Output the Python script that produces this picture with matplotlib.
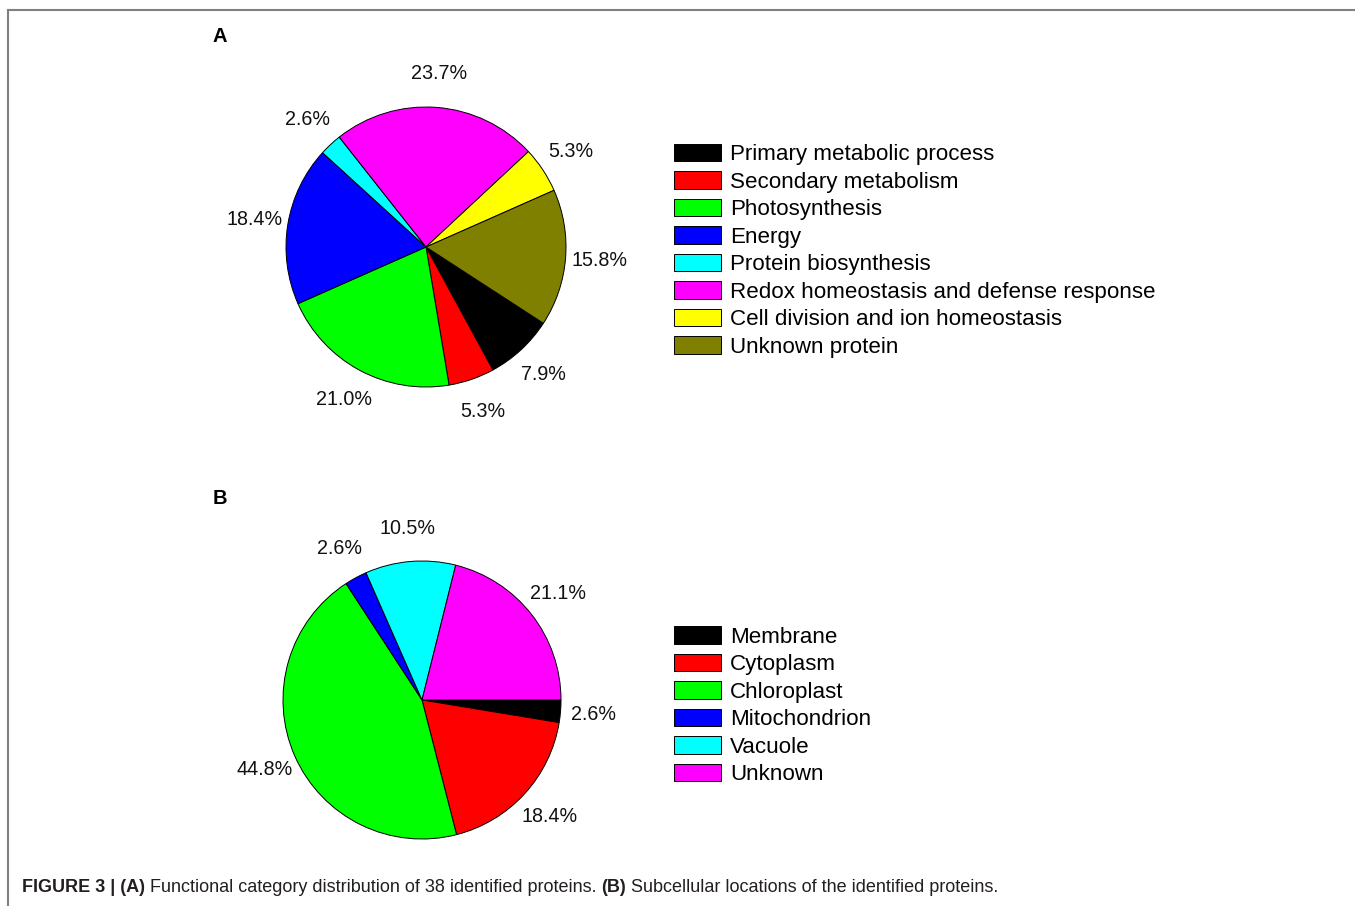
import matplotlib
matplotlib.use("Agg")
import matplotlib.pyplot as plt
from matplotlib.lines import Line2D

plt.rcParams["font.family"] = ["Liberation Sans", "DejaVu Sans"]

# ── data ────────────────────────────────────────────────────────────────
func_cats = ["Primary metabolic process", "Secondary metabolism", "Photosynthesis",
             "Energy", "Protein biosynthesis", "Redox homeostasis and defense response",
             "Cell division and ion homeostasis", "Unknown protein"]
func_pct = [7.9, 5.3, 21.0, 18.4, 2.6, 23.7, 5.3, 15.8]
func_colors = ["#000000", "#ff0000", "#00ff00", "#0000ff", "#00ffff", "#ff00ff",
               "#ffff00", "#808000"]

loc_cats = ["Membrane", "Cytoplasm", "Chloroplast", "Mitochondrion", "Vacuole", "Unknown"]
loc_pct = [2.6, 18.4, 44.8, 2.6, 10.5, 21.1]
loc_colors = ["#000000", "#ff0000", "#00ff00", "#0000ff", "#00ffff", "#ff00ff"]

W, H = 1355, 906
fig = plt.figure(figsize=(W / 100, H / 100), dpi=100)


def pie_axes(cx, cy, r, lim=1.3):
    half = lim * r
    return fig.add_axes([(cx - half) / W, (H - cy - half) / H, 2 * half / W, 2 * half / H])


def draw_pie(ax, vals, colors, start):
    wedges, _, _ = ax.pie(vals, colors=colors, startangle=start, counterclock=False,
                          autopct="%.1f%%", pctdistance=1.24,
                          wedgeprops=dict(edgecolor="black", linewidth=0.7),
                          textprops=dict(fontsize=14.2, color="#111111"))
    ax.set_xlim(-1.3, 1.3)
    ax.set_ylim(-1.3, 1.3)
    ax.set_aspect("equal")
    return wedges


leg_kw = dict(loc="upper left", frameon=False, fontsize=16.1, handlelength=2.12,
              handleheight=0.85, handletextpad=0.4, labelspacing=0.262,
              borderpad=0, borderaxespad=0)

# ── Panel A ─────────────────────────────────────────────────────────────
axA = pie_axes(426, 247, 140)
wA = draw_pie(axA, func_pct, func_colors, -33)
fig.legend(wA, func_cats, bbox_to_anchor=(674 / W, 1 - 143.5 / H), **leg_kw)
fig.text(220 / W, 1 - 37 / H, "A", fontsize=14.5, fontweight="bold", ha="center", va="center")

# ── Panel B ─────────────────────────────────────────────────────────────
axB = pie_axes(422, 700, 139)
wB = draw_pie(axB, loc_pct, loc_colors, 0)
fig.legend(wB, loc_cats, bbox_to_anchor=(674 / W, 1 - 626 / H), **leg_kw)
fig.text(220 / W, 1 - 498 / H, "B", fontsize=14.5, fontweight="bold", ha="center", va="center")

# ── frame ───────────────────────────────────────────────────────────────
fig.add_artist(Line2D([8 / W, 1], [1 - 10 / H, 1 - 10 / H], color="#808080", lw=1.5))
fig.add_artist(Line2D([8 / W, 8 / W], [0, 1 - 10 / H], color="#808080", lw=1.5))

# ── caption ─────────────────────────────────────────────────────────────
cap = fig.add_axes([0, 0, 1, 1])
cap.axis("off")
cap.set_zorder(-1)
pieces = [("FIGURE 3 | (A)", "bold"), (" Functional category distribution of 38 identified proteins. ", "normal"),
          ("(B)", "bold"), (" Subcellular locations of the identified proteins.", "normal")]
prev = cap.text(22 / W, 1 - 887 / H, pieces[0][0], fontsize=13, fontweight=pieces[0][1],
                color="#231f20", va="center", ha="left")
for txt, wt in pieces[1:]:
    prev = cap.annotate(txt, xy=(1, 0), xycoords=prev, va="bottom", ha="left",
                        fontsize=13, fontweight=wt, color="#231f20")

fig.savefig("out.png", dpi=100)
